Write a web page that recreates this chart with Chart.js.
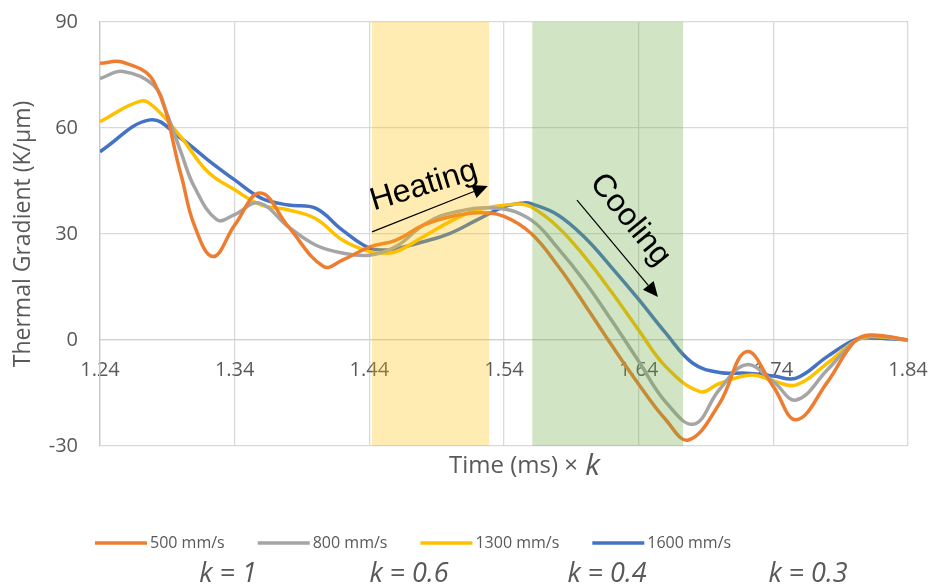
<!DOCTYPE html>
<html>
<head>
<meta charset="utf-8">
<script src="https://cdn.jsdelivr.net/npm/chart.js@4"></script>
<style>
  html, body { margin: 0; padding: 0; background: #fff; }
</style>
</head>
<body>
<canvas id="gradChart" width="930" height="587"></canvas>
<script>
// Series: time (ms, scaled by k) and thermal gradient (K/um)
const labels = ['500 mm/s', '800 mm/s', '1300 mm/s', '1600 mm/s'];
const kLabels = ['k = 1', 'k = 0.6', 'k = 0.4', 'k = 0.3'];
const colors = ['#ED7D31', '#A5A5A5', '#FFC000', '#4472C4'];

const t500 = [1.24, 1.257, 1.28, 1.30, 1.31, 1.324, 1.34, 1.359, 1.38, 1.406, 1.42, 1.44, 1.46, 1.48, 1.50, 1.522, 1.54, 1.56, 1.58, 1.60, 1.62, 1.64, 1.66, 1.677, 1.70, 1.72, 1.74, 1.757, 1.78, 1.80, 1.812, 1.84];
const g500 = [78.3, 78.6, 73.1, 47, 32.5, 23.6, 32.5, 41.6, 32, 20.8, 22.6, 26.3, 28.3, 32.5, 34.9, 36, 35, 30.2, 21, 10, -1.5, -12.5, -22.5, -28.3, -18, -3.3, -13.2, -22.6, -12, -0.5, 1.4, 0];

const t800 = [1.24, 1.257, 1.28, 1.29, 1.30, 1.31, 1.327, 1.34, 1.358, 1.38, 1.40, 1.42, 1.44, 1.46, 1.48, 1.50, 1.535, 1.56, 1.58, 1.60, 1.62, 1.64, 1.66, 1.681, 1.70, 1.72, 1.74, 1.757, 1.78, 1.80, 1.812, 1.84];
const g800 = [74, 76, 72, 63.7, 53.3, 43.4, 34, 35.5, 38.8, 32, 26.9, 24.6, 24, 26.5, 32.5, 35.9, 37.3, 34, 26, 16.5, 5.5, -6, -17.5, -23.8, -14, -7, -11.8, -17, -8.5, -0.5, 1.2, 0];

const t1300 = [1.24, 1.27, 1.28, 1.30, 1.32, 1.34, 1.36, 1.38, 1.40, 1.42, 1.44, 1.45, 1.46, 1.48, 1.50, 1.52, 1.55, 1.56, 1.58, 1.60, 1.62, 1.64, 1.66, 1.6855, 1.70, 1.724, 1.74, 1.757, 1.78, 1.80, 1.812, 1.84];
const g1300 = [61.8, 67.6, 66, 57.5, 47.6, 42.5, 38.2, 36.8, 34.4, 28.3, 25, 24.6, 25, 29.2, 33.5, 36.8, 38.5, 37.7, 32, 23.5, 13.5, 2.8, -7.5, -14.6, -12.3, -9.9, -11.6, -12.7, -6.6, -0.5, 1.0, 0];

const t1600 = [1.24, 1.277, 1.30, 1.32, 1.34, 1.36, 1.38, 1.40, 1.42, 1.44, 1.453, 1.46, 1.48, 1.50, 1.52, 1.54, 1.555, 1.56, 1.58, 1.60, 1.62, 1.64, 1.66, 1.68, 1.70, 1.72, 1.74, 1.757, 1.78, 1.80, 1.812, 1.84];
const g1600 = [53.3, 62.3, 57.1, 51, 45.3, 40.1, 38.2, 37.3, 31.1, 26, 25.5, 25.8, 27.8, 30.2, 34, 37.7, 38.8, 38.6, 35.4, 29, 20.5, 11.5, 2, -6.5, -9.2, -9.4, -10.2, -10.8, -4.7, 0, 0.6, 0];

const xTicks = [1.24, 1.34, 1.44, 1.54, 1.64, 1.74, 1.84];
const yTicks = [-30, 0, 30, 60, 90];

// shaded windows (time range)
const heatingBand = [1.442, 1.529];
const coolingBand = [1.561, 1.673];

const times = [t500, t800, t1300, t1600];
const grads = [g500, g800, g1300, g1600];

const FONT = '"Open Sans"';
const GREY_TXT = '#595959';

// semi-transparent bands over the curves
const bandsPlugin = {
    id: 'bands',
    afterDatasetsDraw(chart) {
        const { ctx, chartArea, scales } = chart;
        const fill = (band, color) => {
            const x0 = scales.x.getPixelForValue(band[0]);
            const x1 = scales.x.getPixelForValue(band[1]);
            ctx.fillStyle = color;
            ctx.fillRect(x0, chartArea.top, x1 - x0, chartArea.bottom - chartArea.top);
        };
        ctx.save();
        fill(heatingBand, 'rgba(255, 192, 0, 0.3)');
        fill(coolingBand, 'rgba(112, 173, 71, 0.32)');
        ctx.restore();
    }
};

function arrow(ctx, x0, y0, x1, y1) {
    const a = Math.atan2(y1 - y0, x1 - x0);
    const head = 15, half = 7;
    ctx.beginPath();
    ctx.moveTo(x0, y0);
    ctx.lineTo(x1 - head * Math.cos(a), y1 - head * Math.sin(a));
    ctx.lineWidth = 1.2;
    ctx.strokeStyle = '#000';
    ctx.stroke();
    ctx.beginPath();
    ctx.moveTo(x1, y1);
    ctx.lineTo(x1 - head * Math.cos(a) - half * Math.sin(a), y1 - head * Math.sin(a) + half * Math.cos(a));
    ctx.lineTo(x1 - head * Math.cos(a) + half * Math.sin(a), y1 - head * Math.sin(a) - half * Math.cos(a));
    ctx.closePath();
    ctx.fillStyle = '#000';
    ctx.fill();
}

function rotatedText(ctx, text, x, y, deg, font) {
    ctx.save();
    ctx.translate(x, y);
    ctx.rotate(deg * Math.PI / 180);
    ctx.font = font;
    ctx.fillStyle = '#000';
    ctx.textAlign = 'center';
    ctx.textBaseline = 'middle';
    ctx.fillText(text, 0, 0);
    ctx.restore();
}

// heating / cooling labels, axis title, legend
const textPlugin = {
    id: 'texts',
    afterDraw(chart) {
        const { ctx, scales } = chart;
        const px = t => scales.x.getPixelForValue(t);
        const py = v => scales.y.getPixelForValue(v);
        ctx.save();

        arrow(ctx, px(1.442), py(30.6), px(1.528), py(43.6));
        rotatedText(ctx, 'Heating', px(1.4805), py(43.6), -17, '32px "Liberation Sans"');
        arrow(ctx, px(1.5942), py(39.6), px(1.6543), py(12.2));
        rotatedText(ctx, 'Cooling', px(1.6336), py(34), 51, '32px "Liberation Sans"');

        // x axis title with italic k
        ctx.fillStyle = GREY_TXT;
        ctx.textBaseline = 'middle';
        ctx.textAlign = 'left';
        ctx.font = '24px ' + FONT;
        const part = 'Time (ms) × ';
        ctx.fillText(part, 449, 466);
        const w = ctx.measureText(part).width;
        ctx.font = 'italic 30px ' + FONT;
        ctx.fillText('k', 450 + w, 466);

        // legend
        let x = 95;
        const ly = 543;
        chart.data.datasets.forEach(ds => {
            ctx.strokeStyle = ds.borderColor;
            ctx.lineWidth = 3.5;
            ctx.beginPath();
            ctx.moveTo(x, ly);
            ctx.lineTo(x + 52, ly);
            ctx.stroke();
            ctx.font = '16px ' + FONT;
            ctx.fillStyle = GREY_TXT;
            ctx.textAlign = 'left';
            ctx.fillText(ds.label, x + 55, ly);
            x += 55 + ctx.measureText(ds.label).width + 33;
        });

        // k value under each speed
        const kX = [228, 409, 607, 808];
        ctx.font = 'italic 27px ' + FONT;
        ctx.textAlign = 'center';
        kLabels.forEach((s, i) => ctx.fillText(s, kX[i], 574));

        ctx.restore();
    }
};

const chart = new Chart(document.getElementById('gradChart'), {
    type: 'line',
    data: {
        datasets: labels.map((label, i) => ({
            label: label,
            data: times[i].map((t, j) => ({ x: t, y: grads[i][j] })),
            borderColor: colors[i],
            backgroundColor: colors[i],
            borderWidth: 3.5,
            pointRadius: 0,
            tension: 0.4,
            fill: false
        }))
    },
    options: {
        responsive: false,
        animation: false,
        layout: { padding: { top: 22, right: 22, bottom: 141, left: 0 } },
        plugins: {
            legend: { display: false },
            tooltip: { enabled: false }
        },
        scales: {
            x: {
                type: 'linear',
                position: { y: 0 },
                min: 1.24,
                max: 1.84,
                afterBuildTicks: s => { s.ticks = xTicks.map(v => ({ value: v })); },
                afterFit: s => { s.paddingLeft = 0; s.paddingRight = 0; },
                ticks: {
                    padding: 18,
                    color: GREY_TXT,
                    font: { family: 'Open Sans', size: 20 },
                    maxRotation: 0,
                    autoSkip: false,
                    callback: v => v.toFixed(2)
                },
                grid: { color: '#d9d9d9', lineWidth: 1.3, drawTicks: false },
                border: { color: '#d0d0d0', width: 1.3 }
            },
            y: {
                min: -30,
                max: 90,
                afterBuildTicks: s => { s.ticks = yTicks.map(v => ({ value: v })); },
                afterFit: s => { s.width = 100; s.paddingTop = 0; s.paddingBottom = 0; },
                ticks: {
                    padding: 22,
                    color: GREY_TXT,
                    font: { family: 'Open Sans', size: 20 }
                },
                grid: { color: '#d9d9d9', lineWidth: 1.3, drawTicks: false },
                border: { color: '#c8c8c8', width: 1.3 },
                title: {
                    display: true,
                    text: 'Thermal Gradient (K/μm)',
                    color: GREY_TXT,
                    font: { family: 'Open Sans', size: 23 },
                    padding: { top: 10, bottom: 0 }
                }
            }
        }
    },
    plugins: [bandsPlugin, textPlugin]
});
</script>
</body>
</html>
